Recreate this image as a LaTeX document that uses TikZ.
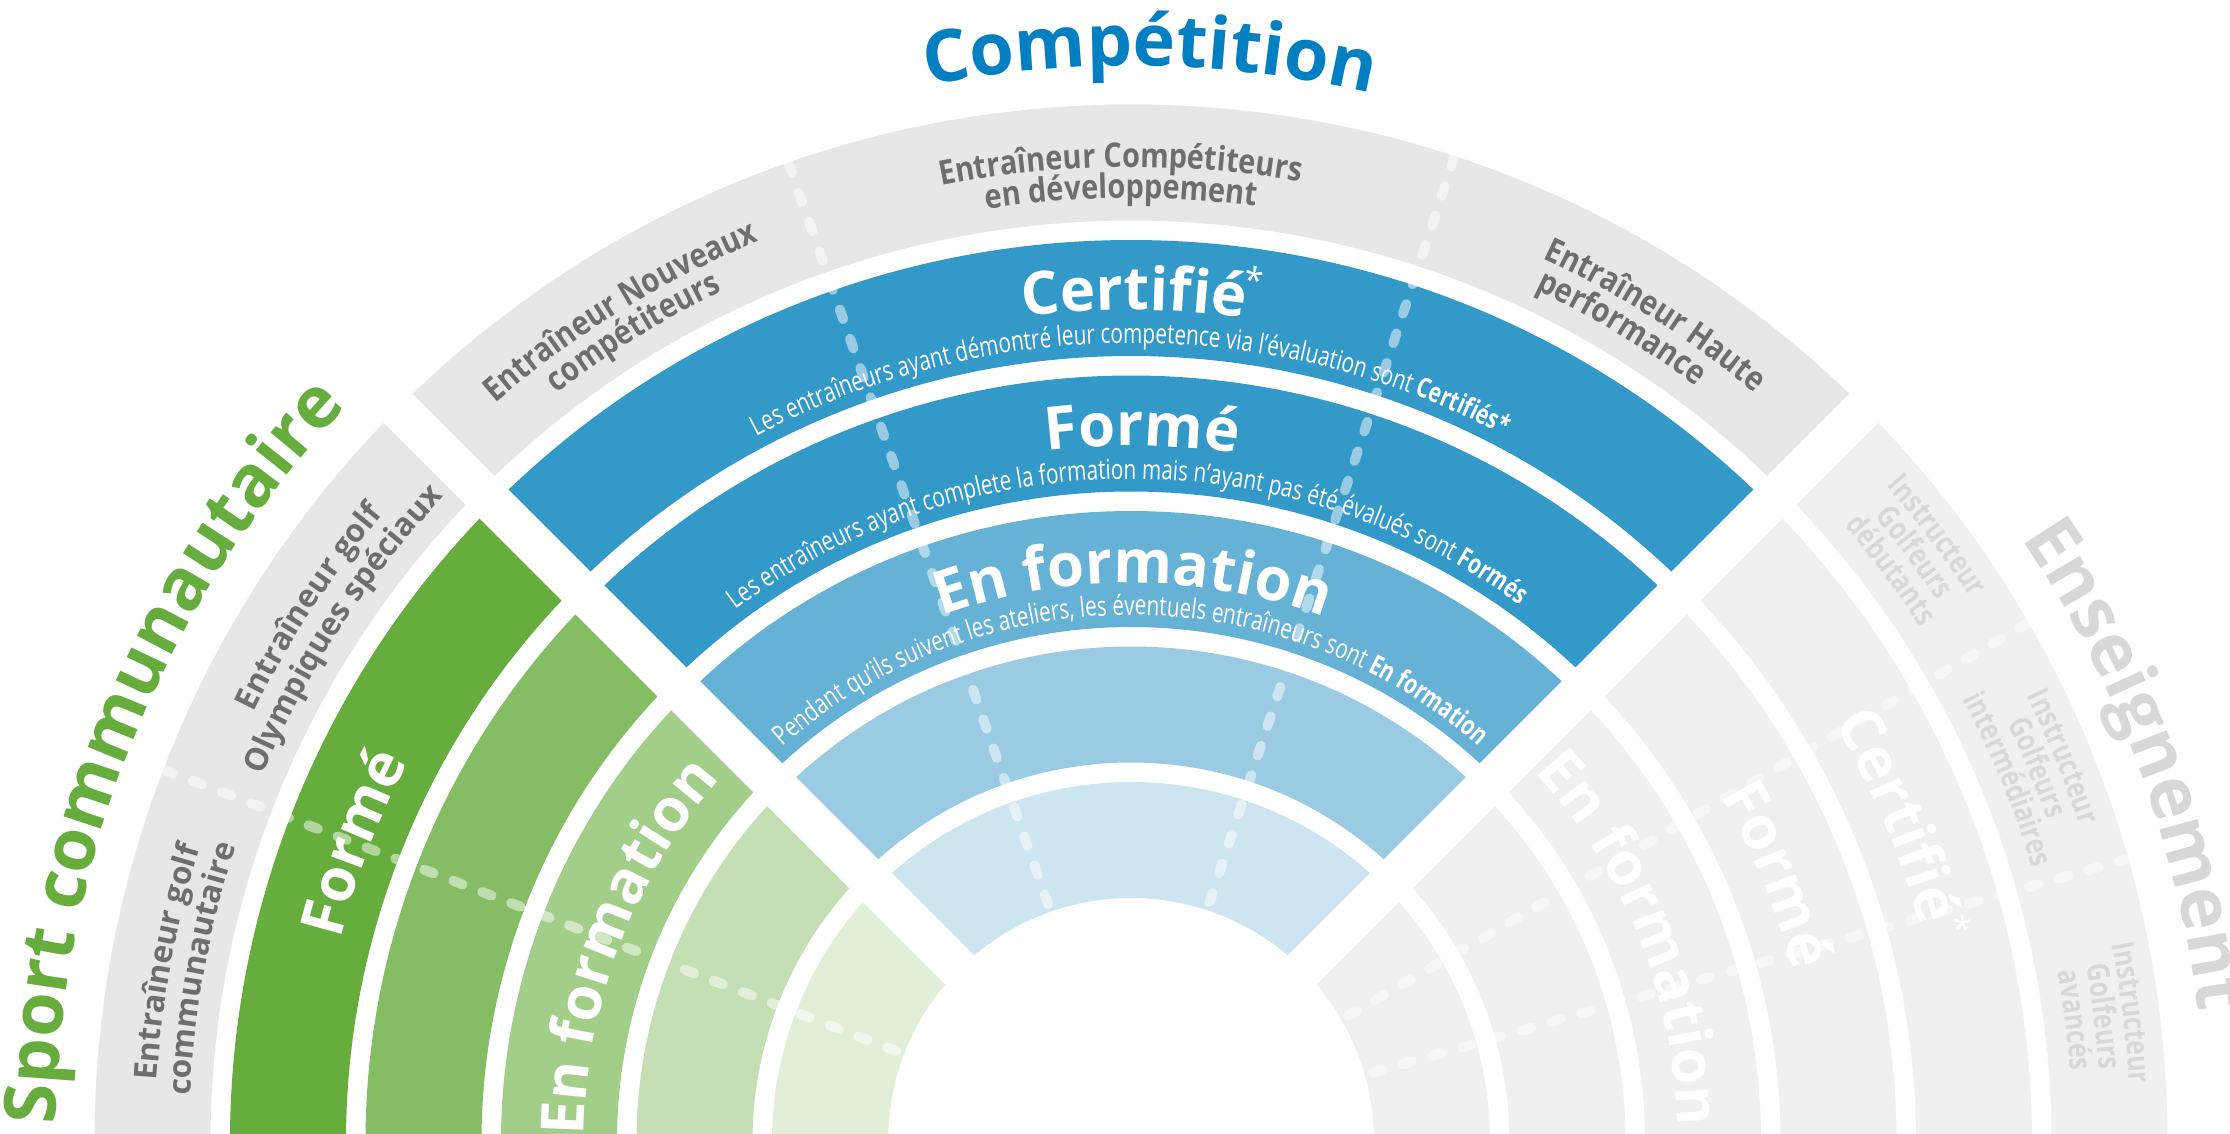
\documentclass[tikz,border=0pt]{standalone}
\usepackage{fontspec}
\setmainfont{Open Sans}
\newfontfamily\OSfam{Open Sans}
\newfontfamily\OSsmallfam{Open Sans}[FakeStretch=0.75]
\newfontfamily\OSlabfam{Open Sans}[FakeStretch=0.86]
\newfontfamily\OSrlabfam{Open Sans}[FakeStretch=0.8]
\usetikzlibrary{decorations.text}

\definecolor{compblue}{RGB}{0,128,192}
\definecolor{bandA}{RGB}{51,153,201}
\definecolor{bandB}{RGB}{102,178,215}
\definecolor{bandC}{RGB}{154,203,227}
\definecolor{bandD}{RGB}{205,229,241}
\definecolor{ringgrey}{RGB}{230,231,232}
\definecolor{greytext}{RGB}{109,110,113}
\definecolor{greenA}{RGB}{102,173,62}
\definecolor{greenB}{RGB}{133,189,100}
\definecolor{greenC}{RGB}{163,206,138}
\definecolor{greenD}{RGB}{196,223,179}
\definecolor{greenE}{RGB}{225,239,216}
\definecolor{ensring}{RGB}{240,240,240}
\definecolor{enstext}{RGB}{215,216,218}

\newcommand\myTitleF{\OSfam\bfseries\fontsize{20.5}{20.5}\selectfont}
\newcommand\myBigF{\OSfam\bfseries\fontsize{17}{17}\selectfont}
\newcommand\mySmallF{\OSsmallfam\fontsize{7.85}{7.85}\selectfont}
\newcommand\mySmallB{\OSsmallfam\bfseries\fontsize{7.85}{7.85}\selectfont}
\newcommand\myLabC{\OSlabfam\bfseries\fontsize{9.6}{9.6}\selectfont}
\newcommand\myLabL{\OSfam\bfseries\fontsize{9}{9}\selectfont}
\newcommand\myLabR{\OSrlabfam\bfseries\fontsize{8.8}{8.8}\selectfont}

% annular sector: colour, ring index, start angle, end angle
\newcommand\myRingSec[4]{%
  \pgfmathsetmacro\myRi{2.43+1.355*#2}%
  \pgfmathsetmacro\myRo{\myRi+1.16}%
  \fill[#1] (#3:\myRi) arc[start angle=#3,end angle=#4,radius=\myRi]
    -- (#4:\myRo) arc[start angle=#4,end angle=#3,radius=\myRo] -- cycle;}

% centred text on a clockwise arc: centre angle, half span, radius, format, text
\newcommand\myArcText[5]{%
  \pgfmathsetmacro\myAs{#1+#2}%
  \pgfmathsetmacro\myAe{#1-#2}%
  \path[decorate,decoration={text along path,text align=center,text={|#4|#5}}]
    (\myAs:#3) arc[start angle=\myAs,end angle=\myAe,radius=#3];}

% left aligned text on a clockwise arc: start angle, end angle, radius, format, text
\newcommand\myArcTextL[5]{%
  \path[decorate,decoration={text along path,text align=left,text={|#4|#5}}]
    (#1:#3) arc[start angle=#1,end angle=#2,radius=#3];}

\tikzset{
  gapline/.style={white,line width=0.41cm},
  dashline/.style={white,opacity=0.5,line width=0.10cm,line cap=round,
    dash pattern=on 0.10cm off 0.21cm},
  starnode/.style={text=white,inner sep=0pt,font=\OSfam\fontsize{10}{10}\selectfont}
}

\begin{document}
\begin{tikzpicture}
\useasboundingbox (0,0) rectangle (22.30,11.33);
\clip (0,0) rectangle (22.30,11.33);
\fill[white] (0,0) rectangle (22.30,11.33);
\coordinate (C) at (11.31,-0.08);

\begin{scope}[shift={(C)}]
% ---------- Compétition sector
\myRingSec{ringgrey}{5}{45}{135}
\myRingSec{bandA}{4}{45}{135}
\myRingSec{bandA}{3}{45}{135}
\myRingSec{bandB}{2}{45}{135}
\myRingSec{bandC}{1}{45}{135}
\myRingSec{bandD}{0}{45}{135}
% ---------- Sport communautaire sector
\myRingSec{ringgrey}{5}{135}{183}
\myRingSec{greenA}{4}{135}{183}
\myRingSec{greenB}{3}{135}{183}
\myRingSec{greenC}{2}{135}{183}
\myRingSec{greenD}{1}{135}{183}
\myRingSec{greenE}{0}{135}{183}
% ---------- Enseignement sector
\foreach \k in {0,...,5}{\myRingSec{ensring}{\k}{-3}{45}}

% ---------- gaps between sectors
\draw[gapline] (0,0) -- (45:11.2);
\draw[gapline] (0,0) -- (135:11.2);

% ---------- dashed dividers
\foreach \a in {109.3,71.8,159,30,15.8}{
  \draw[dashline] (\a:10.36) -- (\a:2.45);
}

% ---------- titles
\myArcText{89}{30}{10.75}{\myTitleF\color{compblue}}{Compétition}
\myArcText{158}{30}{10.75}{\myTitleF\color{greenA}}{Sport communautaire}
\myArcText{20.5}{25}{10.75}{\myTitleF\color{enstext}}{Enseignement}

% ---------- Compétition role labels
\myArcText{90.6}{20}{9.74}{\myLabC\color{greytext}}{Entraîneur Compétiteurs}
\myArcText{90.6}{20}{9.43}{\myLabC\color{greytext}}{en développement}
\myArcText{121.6}{14}{9.74}{\myLabC\color{greytext}}{Entraîneur Nouveaux}
\myArcText{121.6}{14}{9.43}{\myLabC\color{greytext}}{compétiteurs}
\myArcTextL{65}{46}{9.74}{\myLabC\color{greytext}}{Entraîneur Haute}
\myArcTextL{64.6}{46}{9.43}{\myLabC\color{greytext}}{performance}

% ---------- Compétition bands
\myArcText{89.8}{20}{8.31}{\myBigF\color{white}}{Certifié}
\node[starnode,rotate=-8.1] (starA) at (81.9:8.70) {*};
\myArcText{90.1}{40}{7.98}{\mySmallF\color{white}}{Les entraîneurs ayant démontré leur competence via l’évaluation sont |\mySmallB\color{white}|Certifiés*}
\myArcText{89.1}{20}{6.955}{\myBigF\color{white}}{Formé}
\myArcText{90.4}{45}{6.62}{\mySmallF\color{white}}{Les entraîneurs ayant complete la formation mais n’ayant pas été évalués sont |\mySmallB\color{white}|Formés}
\myArcText{89.8}{25}{5.58}{\myBigF\color{white}}{En formation}
\myArcText{90}{50}{5.26}{\mySmallF\color{white}}{Pendant qu’ils suivent les ateliers, les éventuels entraîneurs sont |\mySmallB\color{white}|En formation}

% ---------- Sport communautaire labels
\myArcText{169.5}{12}{9.76}{\myLabL\color{greytext}}{Entraîneur golf}
\myArcText{169.5}{12}{9.42}{\myLabL\color{greytext}}{communautaire}
\myArcText{147}{12}{9.76}{\myLabL\color{greytext}}{Entraîneur golf}
\myArcText{147}{12}{9.42}{\myLabL\color{greytext}}{Olympiques spéciaux}
\myArcText{159}{25}{8.16}{\myBigF\color{white}}{Formé}
\myArcText{159}{30}{5.47}{\myBigF\color{white}}{En formation}

% ---------- Enseignement labels
\foreach \a/\w in {36.9/débutants,22.4/intermédiaires,7.3/avancés}{
  \myArcText{\a}{8}{10.00}{\myLabR\color{enstext}}{Instructeur}
  \myArcText{\a}{8}{9.71}{\myLabR\color{enstext}}{Golfeurs}
  \myArcText{\a}{8}{9.42}{\myLabR\color{enstext}}{\w}
}
\myArcText{23}{20}{8.18}{\myBigF\color{white}}{Certifié}
\node[starnode,rotate=-75.3] (starB) at (14.7:8.55) {*};
\myArcText{22.4}{20}{6.83}{\myBigF\color{white}}{Formé}
\myArcText{22}{30}{5.47}{\myBigF\color{white}}{En formation}
\end{scope}
\end{tikzpicture}
\end{document}
